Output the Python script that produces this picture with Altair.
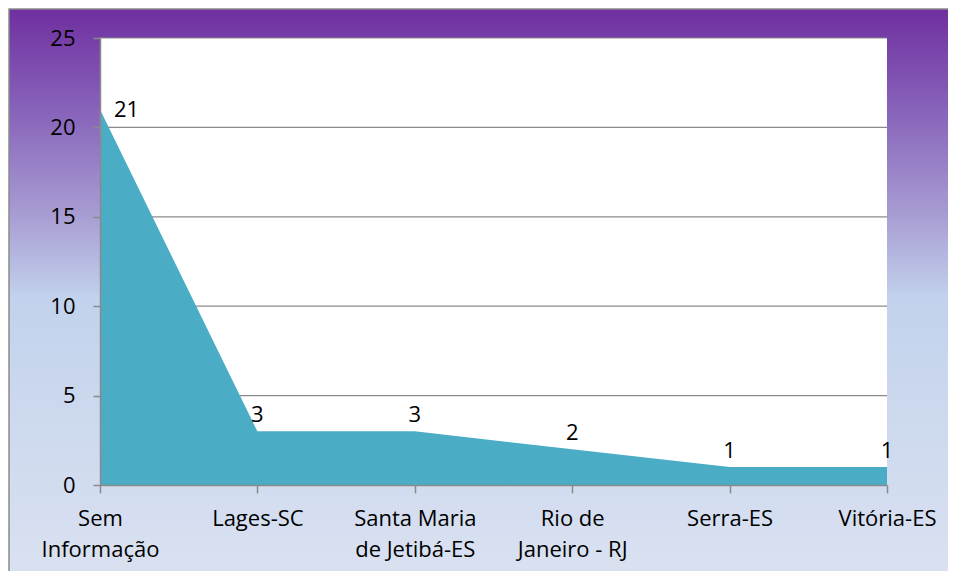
import altair as alt
import pandas as pd

categories = ["Sem\nInformação", "Lages-SC", "Santa Maria\nde Jetibá-ES", "Rio de\nJaneiro - RJ", "Serra-ES", "Vitória-ES"]
values = [21, 3, 3, 2, 1, 1]
y_ticks = [0, 5, 10, 15, 20, 25]

W, H = 787, 447
FONT = "Open Sans"
GRAY = "#8a8a8a"

df = pd.DataFrame({"cat": categories, "v": values, "idx": list(range(len(values)))})

xscale = alt.Scale(type="point", padding=0, domain=categories)
yscale = alt.Scale(domain=[0, 25], nice=False, zero=True)

yaxis = alt.Axis(values=y_ticks, tickSize=7, labelPadding=18, grid=False,
                 domainColor=GRAY, tickColor=GRAY, domainWidth=1.5, tickWidth=1.5,
                 labelFont=FONT, labelFontSize=22, labelColor="black", zindex=1)
xaxis = alt.Axis(labelAngle=0, labelExpr="split(datum.label, '\\n')",
                 labelLineHeight=31, labelPadding=15, tickSize=8,
                 domainColor=GRAY, tickColor=GRAY, domainWidth=1.5, tickWidth=1.5,
                 labelFont=FONT, labelFontSize=22, labelColor="black",
                 grid=False, zindex=1, labelBaseline="top")

one = alt.Data(values=[{"a": 1}])

grad = alt.LinearGradient(
    gradient="linear", x1=0, y1=0, x2=0, y2=1,
    stops=[
        alt.GradientStop(offset=0, color="#6F2FA0"),
        alt.GradientStop(offset=0.18, color="#8A68BC"),
        alt.GradientStop(offset=0.33, color="#A79BD2"),
        alt.GradientStop(offset=0.47, color="#C2D2EC"),
        alt.GradientStop(offset=1, color="#DEE4F2"),
    ],
)

bg = alt.Chart(one).mark_rect(fill=grad, stroke=GRAY, strokeWidth=1.5).encode(
    x=alt.value(-91), x2=alt.value(W + 200), y=alt.value(-29), y2=alt.value(H + 140)
)
plotbg = alt.Chart(one).mark_rect(fill="white").encode(
    x=alt.value(0), x2=alt.value(W), y=alt.value(0), y2=alt.value(H)
)
grid = alt.Chart(pd.DataFrame({"v": y_ticks})).mark_rule(color=GRAY, strokeWidth=1.2).encode(
    y=alt.Y("v:Q", scale=yscale, title=None, axis=yaxis), x=alt.value(0), x2=alt.value(W)
)

base = alt.Chart(df)
area = base.mark_area(color="#4BACC6", opacity=1, interpolate="linear").encode(
    x=alt.X("cat:N", sort=None, scale=xscale, title=None, axis=xaxis),
    y=alt.Y("v:Q", scale=yscale, title=None, axis=yaxis),
)

labels = base.transform_filter("datum.idx > 0").mark_text(
    font=FONT, fontSize=22, color="black", baseline="alphabetic", dy=-9
).encode(
    x=alt.X("cat:N", sort=None, scale=xscale, title=None, axis=xaxis),
    y=alt.Y("v:Q", scale=yscale, title=None, axis=yaxis),
    text="v:Q",
)
first_label = base.transform_filter("datum.idx == 0").mark_text(
    font=FONT, fontSize=22, color="black", baseline="alphabetic", align="left", dx=14, dy=7
).encode(
    x=alt.X("cat:N", sort=None, scale=xscale, title=None, axis=xaxis),
    y=alt.Y("v:Q", scale=yscale, title=None, axis=yaxis),
    text="v:Q",
)

chart = alt.layer(bg, plotbg, grid, area, labels, first_label).properties(
    width=W, height=H,
    autosize=alt.AutoSizeParams(type="none"),
    padding={"left": 92, "top": 30, "right": 61, "bottom": 86},
).configure_view(stroke=None)

chart.save("out.html", embed_options={"renderer": "svg", "actions": False})
